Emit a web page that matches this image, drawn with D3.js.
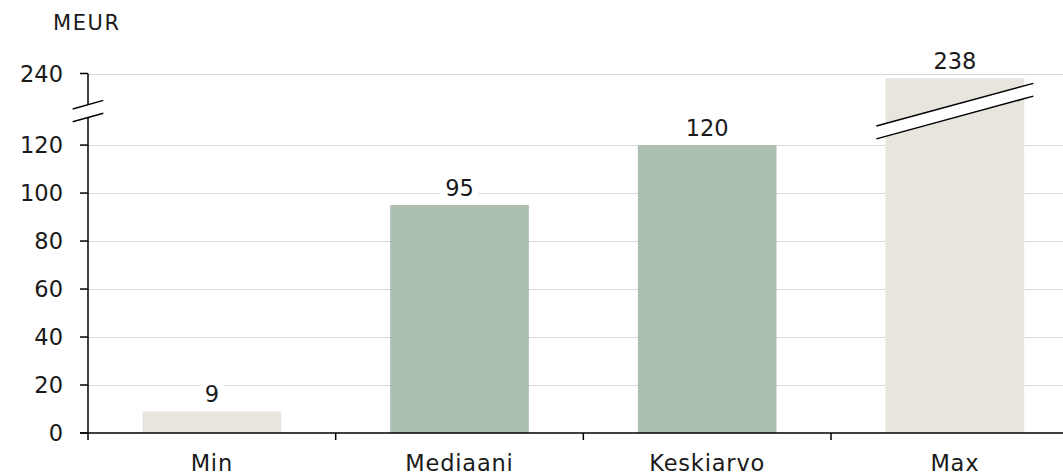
<!DOCTYPE html>
<html>
<head>
<meta charset="utf-8">
<script src="https://cdn.jsdelivr.net/npm/d3@7"></script>
<style>
html,body{margin:0;padding:0;background:#fff;}
svg{display:block;}
text{font-family:"DejaVu Sans","Noto Sans",sans-serif;fill:#1a1a1a;}
</style>
</head>
<body>
<svg id="chart" width="1063" height="474"></svg>
<script>
const categories = ["Min", "Mediaani", "Keskiarvo", "Max"];
const values = [9, 95, 120, 238];
const barKinds = ["extreme", "central", "central", "extreme"];
const lowTicks = [0, 20, 40, 60, 80, 100, 120];
const highTicks = [240];
const unitLabel = "MEUR";

const colors = {extreme: "#e8e5df", central: "#adbfb1"};
const FS = 22.5;

const svg = d3.select("#chart");
const x0 = 88, step = 247.67;
const x = d3.scaleBand().domain(categories)
  .range([x0, x0 + step * categories.length])
  .paddingInner(0.44).paddingOuter(0.22);

// broken y axis: two linear segments
const yLow = d3.scaleLinear().domain([0, 131.5]).range([433, 117.5]);
const yHigh = d3.scaleLinear().domain([227, 240]).range([104.7, 73.5]);
const breakTop = yHigh.range()[0], breakBot = yLow.range()[1];
const y = v => v <= 131.5 ? yLow(v) : yHigh(v);

// gridlines
const gridTicks = lowTicks.filter(t => t > 0).concat(highTicks);
svg.append("g").selectAll("line").data(gridTicks).join("line")
  .attr("x1", x0).attr("x2", 1063)
  .attr("y1", d => Math.round(y(d)) + 0.5).attr("y2", d => Math.round(y(d)) + 0.5)
  .attr("stroke", "#d9d9d9").attr("stroke-width", 1);

// bars
svg.append("g").selectAll("rect").data(categories).join("rect")
  .attr("x", d => x(d))
  .attr("width", x.bandwidth())
  .attr("y", (d, i) => y(values[i]))
  .attr("height", (d, i) => y(0) - y(values[i]))
  .attr("fill", (d, i) => colors[barKinds[i]]);

// break marks across tall bars
const slope = -42.7 / 157;
categories.forEach((c, i) => {
  if (values[i] > 131.5) {
    const cx = x(c) + x.bandwidth() / 2;
    const half = 78.5;
    const yc1 = breakTop, yc2 = breakBot;
    const pts = [
      [cx - half, yc1 - slope * half], [cx + half, yc1 + slope * half],
      [cx + half, yc2 + slope * half], [cx - half, yc2 - slope * half]
    ];
    svg.append("polygon").attr("points", pts.map(p => p.join(",")).join(" "))
      .attr("fill", "#fff");
    svg.append("line").attr("x1", pts[0][0]).attr("y1", pts[0][1])
      .attr("x2", pts[1][0]).attr("y2", pts[1][1]).attr("stroke", "#000").attr("stroke-width", 1.5);
    svg.append("line").attr("x1", pts[3][0]).attr("y1", pts[3][1])
      .attr("x2", pts[2][0]).attr("y2", pts[2][1]).attr("stroke", "#000").attr("stroke-width", 1.5);
  }
});

// value labels with white background
const lbl = svg.append("g").selectAll("g").data(categories).join("g")
  .attr("transform", (d, i) => `translate(${x(d) + x.bandwidth() / 2},${y(values[i]) - 9.5})`);
lbl.append("text").attr("text-anchor", "middle").attr("font-size", FS)
  .text((d, i) => values[i]);
lbl.each(function() {
  const g = d3.select(this);
  const w = g.select("text").node().getComputedTextLength();
  g.insert("rect", "text").attr("x", -w / 2 - 5).attr("y", -19).attr("width", w + 10)
    .attr("height", 22).attr("fill", "#fff");
});

// y axis
const ya = svg.append("g");
ya.append("line").attr("x1", x0).attr("x2", x0).attr("y1", y(0)).attr("y2", breakBot)
  .attr("stroke", "#000").attr("stroke-width", 1.5);
ya.append("line").attr("x1", x0).attr("x2", x0).attr("y1", breakTop).attr("y2", y(240))
  .attr("stroke", "#000").attr("stroke-width", 1.5);
const axSlope = -8.6 / 30.6;
[breakTop, breakBot].forEach(yy => {
  ya.append("line").attr("x1", x0 - 15.3).attr("y1", yy - axSlope * 15.3)
    .attr("x2", x0 + 15.3).attr("y2", yy + axSlope * 15.3)
    .attr("stroke", "#000").attr("stroke-width", 1.5);
});
const allTicks = lowTicks.concat(highTicks);
ya.selectAll("line.tk").data(allTicks).join("line").attr("class", "tk")
  .attr("x1", x0 - 8).attr("x2", x0)
  .attr("y1", d => y(d)).attr("y2", d => y(d))
  .attr("stroke", "#000").attr("stroke-width", 1.5);
ya.selectAll("text").data(allTicks).join("text")
  .attr("x", x0 - 25).attr("y", d => y(d) + 8)
  .attr("text-anchor", "end").attr("font-size", FS)
  .text(d => d);

// x axis
const xa = svg.append("g");
xa.append("line").attr("x1", x0 - 8).attr("x2", 1063).attr("y1", y(0)).attr("y2", y(0))
  .attr("stroke", "#000").attr("stroke-width", 1.5);
xa.selectAll("line.tk").data(d3.range(categories.length + 1)).join("line").attr("class", "tk")
  .attr("x1", i => x0 + i * x.step()).attr("x2", i => x0 + i * x.step())
  .attr("y1", y(0)).attr("y2", y(0) + 7)
  .attr("stroke", "#000").attr("stroke-width", 1.5);
xa.selectAll("text").data(categories).join("text")
  .attr("x", d => x(d) + x.bandwidth() / 2).attr("y", 471)
  .attr("text-anchor", "middle").attr("font-size", FS)
  .attr("letter-spacing", 0.8)
  .text(d => d);

svg.append("text").attr("x", 53).attr("y", 30).attr("font-size", 21)
  .attr("letter-spacing", 1.6).text(unitLabel);
</script>
</body>
</html>
